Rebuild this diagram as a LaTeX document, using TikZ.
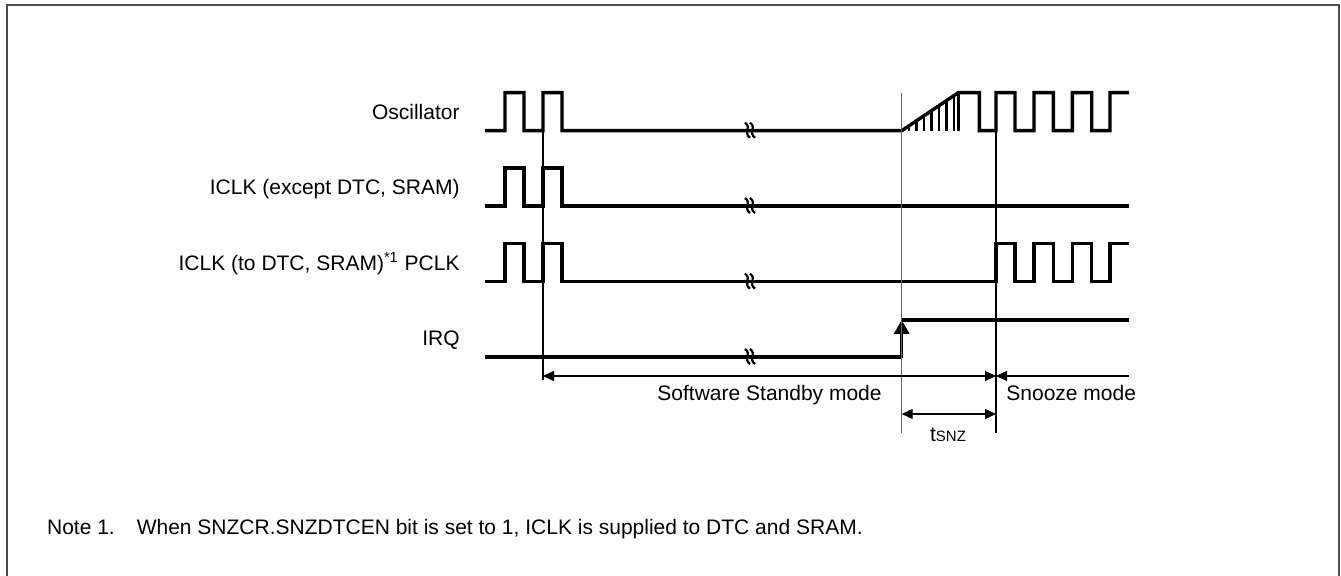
\documentclass[tikz,border=0pt]{standalone}
\usepackage{fontspec}
\setmainfont{Liberation Sans}
\usetikzlibrary{arrows.meta}

\begin{document}
\begin{tikzpicture}[x=0.5pt, y=-0.5pt,
    signal/.style={line width=1.7pt, line join=miter},
    guide/.style={line width=0.6pt},
    span/.style={line width=0.6pt, {Triangle[length=5.5pt,width=5pt]}-{Triangle[length=5.5pt,width=5pt]}},
    rowlabel/.style={anchor=base east, inner sep=0pt, font=\fontsize{10.5}{12}\selectfont},
    modelabel/.style={inner sep=0pt, font=\fontsize{10.5}{12}\selectfont}]

    \def \h {38}       % pulse height
    \def \xa {901.7}   % IRQ edge
    \def \xb {996}     % end of standby

    \useasboundingbox (0,0) rectangle (1341,576);
    \draw [line width=1pt, black!70] (7,590) -- (7,5) -- (1339,5) -- (1339,590);

    % row labels
    \foreach \lo/\name/\txt in {130.7/osc/{Oscillator}, 206/iclk/{ICLK (except DTC, SRAM)},
        281.7/pclk/{ICLK (to DTC, SRAM)\textsuperscript{*1} PCLK}, 357/irq/{IRQ}}
    {
      \node [rowlabel] (lbl-\name) at (460, \lo-11.5) {\txt};
    }

    % clocks before standby
    \draw [signal] (485,130.7) -| (505,130.7-\h) -| (524,130.7) -| (543,130.7-\h) -| (562,130.7)
      -- (\xa,130.7) -- (958.3,130.7-\h) -- (979.3,130.7-\h) |- (\xb,130.7)
      |- (1015,130.7-\h) |- (1034,130.7) |- (1053.3,130.7-\h) |- (1072.3,130.7)
      |- (1091.7,130.7-\h) |- (1110,130.7) |- (1129,130.7-\h);
    \draw [signal] (958.3,130.7-\h) -- (958.3,130.7);
    \foreach \x in {909,916.5,924,931.5,939,946.5,954}
    {
      \draw [line width=1.3pt] (\x,130.7) -- (\x,{130.7-(\x-\xa)*\h/56.6});
    }

    \draw [signal] (485,206) -| (505,206-\h) -| (524,206) -| (543,206-\h) -| (562,206) -- (1129,206);

    \draw [signal] (485,281.7) -| (505,281.7-\h) -| (524,281.7) -| (543,281.7-\h) -| (562,281.7)
      -- (\xb,281.7) |- (1015,281.7-\h) |- (1034,281.7) |- (1053.3,281.7-\h) |- (1072.3,281.7)
      |- (1091.7,281.7-\h) |- (1110,281.7) |- (1129,281.7-\h);

    % IRQ
    \draw [signal] (485,357) -- (\xa,357);
    \draw [signal, -{Triangle[length=7pt,width=7.5pt]}] (\xa,357.7) -- (\xa,320);
    \draw [signal] (\xa,320) -- (1129,320);

    % breaks
    \foreach \y in {130.7, 206, 281.7, 357}
      \foreach \d in {0,5}
      {
        \draw [line width=1.1pt] (745+\d,\y-8) .. controls (752+\d,\y-3) and (743+\d,\y+2) .. (750+\d,\y+7);
      }

    % guides
    \coordinate (sleep) at (543,376);
    \coordinate (wake) at (\xb,376);
    \coordinate (stop) at (1129,376);
    \coordinate (irq-a) at (\xa,414);
    \coordinate (irq-b) at (\xb,414);
    \draw [guide] (543,130.7) -- (543,380);
    \draw [guide, black!60] (\xa,92.7) -- (\xa,433);
    \draw [guide] (\xb,130.7) -- (\xb,433);

    \draw [span] (sleep) -- (wake);
    \draw [guide, {Triangle[length=5.5pt,width=5pt]}-] (wake) -- (stop);
    \draw [span] (irq-a) -- (irq-b);

    \node [modelabel, anchor=base east] (standby) at (882,401) {Software Standby mode};
    \node [modelabel, anchor=base west] (snooze) at (1006,401) {Snooze mode};
    \node [modelabel, anchor=base] (tsnz) at (948,442) {t{\fontsize{7.5}{9}\selectfont SNZ}};

    \node [modelabel, anchor=base west] (note) at (46.7,535)
      {Note 1.\hspace{11pt}When SNZCR.SNZDTCEN bit is set to 1, ICLK is supplied to DTC and SRAM.};
\end{tikzpicture}
\end{document}
